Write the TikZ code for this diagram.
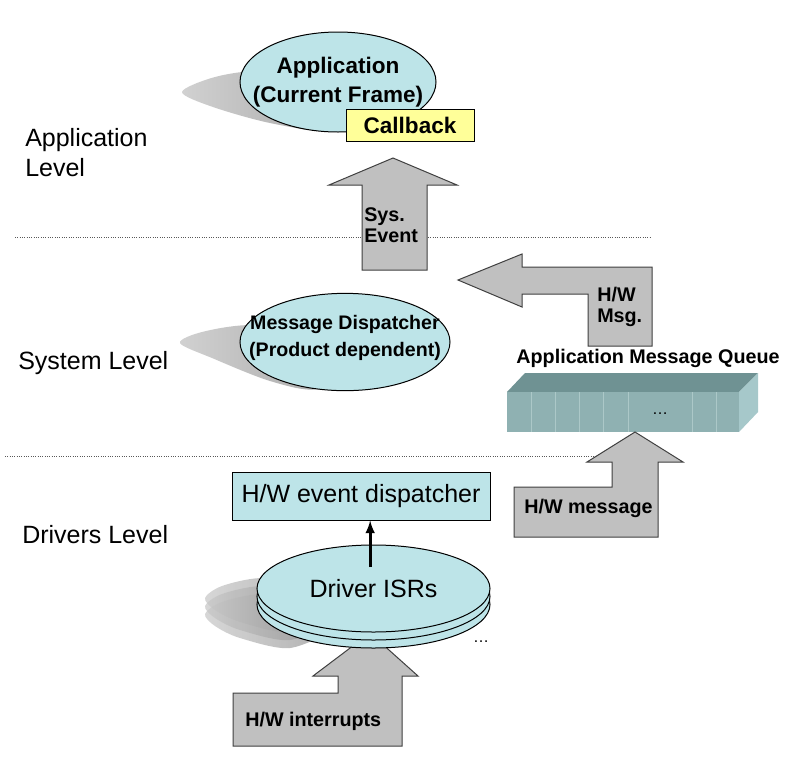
\documentclass[tikz,border=0pt]{standalone}
\usepackage{fontspec}
\setmainfont{Liberation Sans}
\usepackage{tikz}
\usepackage{xcolor}
\usetikzlibrary{shapes.geometric}
\definecolor{palecyan}{RGB}{189,228,232}
\definecolor{noteyellow}{RGB}{255,255,153}
\definecolor{arrowgrey}{RGB}{192,192,192}
\definecolor{queuetop}{RGB}{111,146,147}
\definecolor{queuefront}{RGB}{143,177,178}
\definecolor{queueside}{RGB}{166,200,202}
\definecolor{queuerib}{RGB}{172,200,200}
\tikzset{
    level-label/.style = {font=\fontsize{18.75}{22.5}\selectfont, align=left, anchor=west, inner sep=0pt},
    level-line/.style = {densely dotted, black!65, line width=0.75pt},
    blue-ellipse/.style = {draw, fill=palecyan, ellipse, inner sep=0pt, line width=0.75pt},
    ellipse-text/.style = {align=center, inner sep=0pt, font=\bfseries},
    blue-box/.style = {draw, fill=palecyan, rectangle, inner sep=0pt, line width=0.75pt},
    disk-layer/.style = {draw, fill=palecyan, line width=0.75pt},
    shadow-blob/.style = {left color=black!18, right color=black!36},
    disk-shadow/.style = {left color=black!22, right color=black!45, opacity=.7},
    block-arrow/.style = {draw=black!75, fill=arrowgrey, line width=0.75pt, line join=miter},
    arrow-label/.style = {font=\fontsize{14.8}{15.5}\selectfont\bfseries, align=left, anchor=west, inner sep=0pt},
}

\begin{document}
\begin{tikzpicture}[x=0.75pt, y=-0.75pt]
\fill[white] (0,0) rectangle (800,768);
\useasboundingbox (0,0) rectangle (800,768);

% shadows
\shade[shadow-blob] plot[smooth cycle] coordinates {(182,92) (215,77) (260,71) (330,78) (362,108) (332,131) (270,123) (213,107)};
\shade[shadow-blob] plot[smooth cycle] coordinates {(180,343) (202,332) (250,325) (330,330) (362,362) (318,389) (270,381) (212,358)};
\shade[disk-shadow] plot[smooth cycle] coordinates {(205,598) (222,586) (260,578) (320,580) (335,610) (290,632) (240,622) (215,610)};
\shade[disk-shadow] plot[smooth cycle] coordinates {(205,606) (222,594) (260,586) (320,588) (335,618) (290,640) (240,630) (215,618)};
\shade[disk-shadow] plot[smooth cycle] coordinates {(205,614) (222,602) (260,594) (320,596) (335,626) (290,648) (240,638) (215,626)};

% level separators
\draw[level-line] (15,237) -- (650,237);
\draw[level-line] (5,456) -- (600,456);

\node[level-label] (applevel) at (25,153) {Application\\Level};
\node[level-label] (syslevel) at (18,363) {System Level};
\node[level-label] (drvlevel) at (22,535) {Drivers Level};

% application level
\node[blue-ellipse, minimum width=147pt, minimum height=75pt] (app) at (338,82) {};
\node[ellipse-text, font=\fontsize{16.9}{21.75}\selectfont\bfseries] (apptext) at (app.center) {Application\\(Current Frame)};
\node[draw, fill=noteyellow, line width=0.75pt, minimum width=96pt, minimum height=24pt,
      font=\fontsize{16.9}{20}\selectfont\bfseries] (callback) at (410,125) {Callback};

\draw[block-arrow] (393,158) -- (457,185) -- (427,185) -- (427,270) -- (362,270) -- (362,185) -- (329,185) -- cycle;
\node[arrow-label] (sysevent) at (364,225) {Sys.\\Event};

% system level
\node[blue-ellipse, minimum width=157.5pt, minimum height=73pt] (msgdisp) at (345,342) {};
\node[ellipse-text, font=\fontsize{14.7}{20.5}\selectfont\bfseries] (msgdisptext) at ([yshift=3pt]msgdisp.center) {Message Dispatcher\\(Product dependent)};

\draw[block-arrow] (458,280) -- (522,254) -- (522,267) -- (652,267) -- (652,346) -- (588,346) -- (588,294) -- (522,294) -- (522,307) -- cycle;
\node[arrow-label] (hwmsg) at (597,307) {H/W\\Msg.};

\node[font=\fontsize{14.8}{17}\selectfont\bfseries, inner sep=0pt] (queuetitle) at (648,358) {Application Message Queue};
\fill[queuetop] (507,392) -- (525,373) -- (758,373) -- (739,392) -- cycle;
\fill[queuefront] (507,392) rectangle (739,432);
\fill[queueside] (739,392) -- (758,373) -- (758,412) -- (739,432) -- cycle;
\draw[queuerib, line width=0.75pt] (531,392) -- (531,432) (555,392) -- (555,432) (579,392) -- (579,432)
    (603,392) -- (603,432) (628,392) -- (628,432) (692,392) -- (692,432) (716,392) -- (716,432);
\node[font=\fontsize{12}{12}\selectfont] (queuedots) at (660,414) {\dots};

% drivers level
\draw[block-arrow] (635,432) -- (683,462) -- (658,462) -- (658,537) -- (514,537) -- (514,487) -- (612,487) -- (612,462) -- (587,462) -- cycle;
\node[arrow-label] (hwmessage) at (524,508) {H/W message};

\node[blue-box, minimum width=193.5pt, minimum height=36pt,
      font=\fontsize{18.75}{22}\selectfont] (hwdisp) at (361,496) {H/W event dispatcher};

\draw[block-arrow] (370,633) -- (418,676) -- (402,676) -- (402,746) -- (233,746) -- (233,693) -- (338,693) -- (338,676) -- (313,676) -- cycle;
\node[arrow-label] (hwint) at (245,721) {H/W interrupts};

\draw[disk-layer] (373.5,604.5) ellipse [x radius=116.5, y radius=43.5];
\draw[disk-layer] (373.5,596.5) ellipse [x radius=116.5, y radius=43.5];
\node[blue-ellipse, minimum width=174.75pt, minimum height=65.25pt,
      font=\fontsize{18.75}{22}\selectfont] (isr) at (373.5,588.5) {Driver ISRs};
\node[font=\fontsize{12}{12}\selectfont] (diskdots) at (481,642) {\dots};

\draw[-latex, line width=2.25pt] ([xshift=-2.5pt, yshift=16pt]isr.center) -- ([xshift=-2.5pt]isr.center |- hwdisp.south);
\end{tikzpicture}
\end{document}
